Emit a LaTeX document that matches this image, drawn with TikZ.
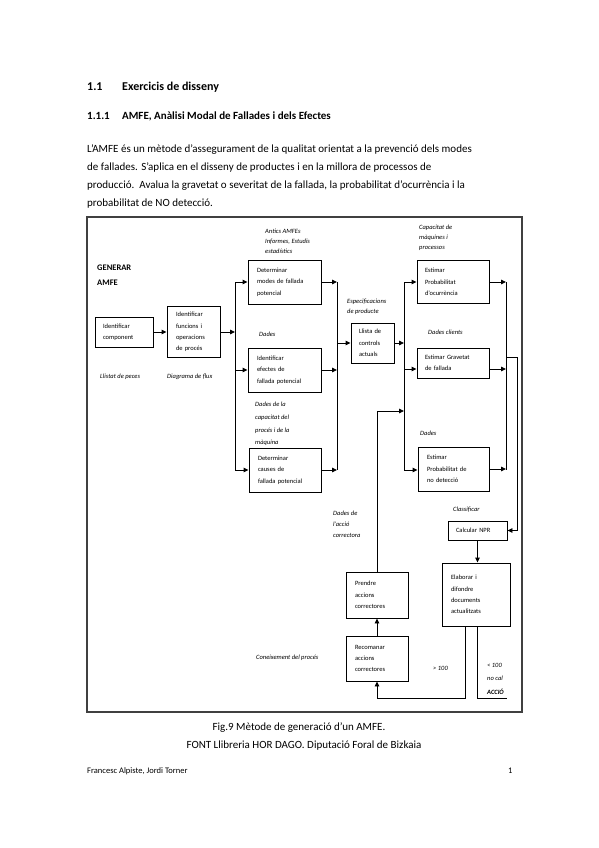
\documentclass[tikz,border=0pt]{standalone}
\usepackage{fontspec}
\setmainfont{Carlito}
\usetikzlibrary{arrows.meta}
\tikzset{
  box/.style={draw, line width=0.9pt, inner ysep=0pt, align=left, font=\fontsize{6.5}{11.3}\selectfont},
  lab/.style={inner sep=0pt, anchor=west, align=left, font=\fontsize{6.5}{#1}\selectfont\itshape},
  lab/.default=11,
  slab/.style={inner sep=0pt, anchor=mid west, font=\fontsize{6.5}{8}\selectfont\itshape},
  txt/.style={inner sep=0pt, anchor=mid west, font=\fontsize{11}{13}\selectfont},
  wire/.style={line width=0.9pt},
  conn/.style={line width=0.9pt, -{Triangle[length=5pt,width=4.5pt]}},
}
\begin{document}
\begin{tikzpicture}[x=1pt,y=-1pt]
\path[use as bounding box] (0,0) rectangle (599,848);

% headings and body text
\node[txt, font=\fontsize{12}{14}\selectfont\bfseries] (h1n) at (87,88) {1.1};
\node[txt, font=\fontsize{12}{14}\selectfont\bfseries] (h1) at (122,88) {Exercicis de disseny};
\node[txt, font=\fontsize{11}{13}\selectfont\bfseries] (h2n) at (87,117) {1.1.1};
\node[txt, font=\fontsize{11}{13}\selectfont\bfseries] (h2) at (122,117) {AMFE, Anàlisi Modal de Fallades i dels Efectes};
\node[txt] (p1) at (87,150) {L’AMFE és un mètode d’assegurament de la qualitat orientat a la prevenció dels modes};
\node[txt] (p2) at (87,168.5) {de fallades. S’aplica en el disseny de productes i en la millora de processos de};
\node[txt] (p3) at (87,186.5) {producció.\ \ Avalua la gravetat o severitat de la fallada, la probabilitat d’ocurrència i la};
\node[txt] (p4) at (87,204.5) {probabilitat de NO detecció.};

% frame
\draw[line width=1.3pt, black!75] (87,217) rectangle (522,712);

\node[inner sep=0pt, anchor=west, align=left, font=\fontsize{8.5}{15}\selectfont\bfseries] (gen) at (97,275.5) {GENERAR\\AMFE};

% boxes
\node[box, text width=42pt, inner xsep=8pt, minimum height=30pt] (A) at (124,332) {Identificar\\component};
\node[box, text width=35pt, inner xsep=9pt, minimum height=51pt] (B) at (193.5,332) {Identificar\\funcions i\\operacions\\de procés};
\node[box, text width=55pt, inner xsep=9pt, minimum height=44pt] (C) at (284.5,282) {Determinar\\modes de fallada\\potencial};
\node[box, text width=55pt, inner xsep=9pt, minimum height=44pt] (D) at (284.5,370) {Identificar\\efectes de\\fallada potencial};
\node[box, text width=54pt, inner xsep=9pt, minimum height=44pt] (E) at (285,470) {Determinar\\causes de\\fallada potencial};
\node[box, text width=27pt, inner xsep=8pt, minimum height=40pt] (F) at (372.5,343) {Llista de\\controls\\actuals};
\node[box, text width=56pt, inner xsep=8pt, minimum height=43pt] (G) at (453,282) {Estimar\\Probabilitat\\d’ocurrència};
\node[box, text width=56pt, inner xsep=8pt, minimum height=30pt] (H) at (453,363) {Estimar Gravetat\\de fallada};
\node[box, text width=53pt, inner xsep=9pt, minimum height=44pt] (I) at (453.5,469) {Estimar\\Probabilitat de\\no detecció};
\node[box, text width=43pt, inner xsep=8pt, minimum height=19pt] (NPR) at (477.5,530.5) {Calcular NPR};
\node[box, text width=50pt, inner xsep=9pt, minimum height=63pt] (J) at (476,594.5) {Elaborar i\\difondre\\documents\\actualitzats\\[8pt]};
\node[box, text width=44pt, inner xsep=9pt, minimum height=46pt] (K) at (377,595) {Prendre\\accions\\correctores};
\node[box, text width=44pt, inner xsep=9pt, minimum height=45pt] (L) at (377,658.5) {Recomanar\\accions\\correctores};

% labels
\node[slab] (l1) at (100,376) {Llistat de peces};
\node[slab] (l2) at (167,376) {Diagrama de flux};
\node[lab=10] (l3) at (265,241) {Antics AMFEs\\Informes, Estudis\\estadístics};
\node[slab] (l4) at (259,334) {Dades};
\node[lab=12.7] (l5) at (255,424) {Dades de la\\capacitat del\\procés i de la\\màquina};
\node[lab=10.5] (l6) at (347,307) {Especificacions\\de producte};
\node[lab=10] (l7) at (419,238) {Capacitat de\\màquines i\\processos};
\node[slab] (l8) at (428,332) {Dades clients};
\node[slab] (l9) at (420,433) {Dades};
\node[slab] (l10) at (453,509) {Classificar};
\node[lab=11] (l11) at (333,524) {Dades de\\l’acció\\correctora};
\node[slab] (l12) at (256,657) {Coneixement del procés};
\node[slab] (l13) at (433,668) {> 100};
\node[lab=13.5] (l14) at (487,678.5) {< 100\\no cal\\\textbf{ACCIÓ}};

% buses
\coordinate (b1t) at (235,282);
\coordinate (b1b) at (235,470);
\coordinate (b2t) at (337,282);
\coordinate (b2b) at (337,470);
\coordinate (b3t) at (404,282);
\coordinate (b3h) at (404,369);
\coordinate (b3b) at (404,470);
\coordinate (fb) at (404,411);
\coordinate (b4t) at (506,282);
\coordinate (b4j) at (506,357);
\coordinate (b4b) at (506,470);
\coordinate (rr) at (517,357);
\coordinate (endr) at (507,698);

\draw[conn] (A.east) -- (A.east -| B.west);
\draw[conn] (B.east) -- (B.east -| b1t);
\draw[wire] (b1t) -- (b1b);
\draw[conn] (b1t) -- (C.west);
\draw[conn] (D.west -| b1t) -- (D.west);
\draw[conn] (b1b) -- (E.west);

\draw[conn] (C.east) -- (b2t);
\draw[conn] (D.east) -- (D.east -| b2t);
\draw[conn] (E.east) -- (b2b);
\draw[wire] (b2t) -- (b2b);
\draw[conn] (F.west -| b2t) -- (F.west);

\draw[conn] (F.east) -- (F.east -| b3t);
\draw[wire] (b3t) -- (b3b);
\draw[conn] (b3t) -- (b3t -| G.west);
\draw[conn] (b3h) -- (b3h -| H.west);
\draw[conn] (b3b) -- (b3b -| I.west);
\draw[conn] (K.north) |- (fb);

\draw[conn] (G.east) -- (G.east -| b4t);
\draw[conn] (b3h -| H.east) -- (b3h -| b4t);
\draw[conn] (I.east) -- (I.east -| b4t);
\draw[wire] (b4t) -- (b4b);
\draw[conn] (b4j) -- (rr) |- (NPR.east);

\draw[conn] (NPR.south) -- (NPR.south |- J.north);
\draw[conn] ([xshift=-11pt]J.south) -- ++(0,72) -| (L.south);
\draw[wire] ([xshift=1pt]J.south) |- (endr);
\draw[conn] (L.north) -- (K.south);

% caption and footer
\node[inner sep=0pt, anchor=mid, font=\fontsize{11}{13}\selectfont] (cap1) at (299,728) {Fig.9 Mètode de generació d’un AMFE.};
\node[inner sep=0pt, anchor=mid, font=\fontsize{11}{13}\selectfont] (cap2) at (304,746) {FONT Llibreria HOR DAGO. Diputació Foral de Bizkaia};
\node[inner sep=0pt, anchor=mid west, font=\fontsize{8.5}{10}\selectfont] (foot) at (87,771) {Francesc Alpiste, Jordi Torner};
\node[inner sep=0pt, anchor=mid west, font=\fontsize{8.5}{10}\selectfont] (pg) at (508,771) {1};
\end{tikzpicture}
\end{document}
